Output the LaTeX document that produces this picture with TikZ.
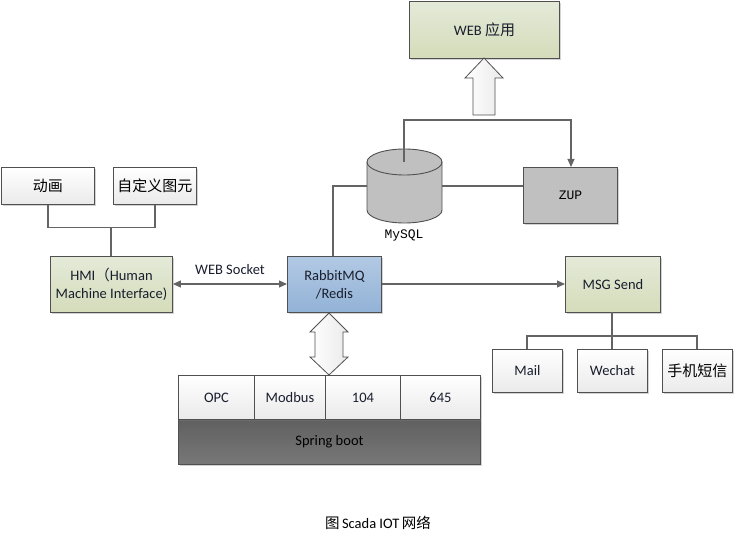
\documentclass[tikz,border=0pt]{standalone}
\usepackage{fontspec}
\setmainfont{Carlito}
\newfontfamily\cjk{Noto Sans CJK SC}
\newfontfamily\monof{Liberation Mono}
\usetikzlibrary{arrows.meta,shadows}
\definecolor{bordc}{RGB}{80,80,80}
\definecolor{linec}{RGB}{100,100,100}
\definecolor{txtc}{RGB}{25,30,45}
\definecolor{greentop}{RGB}{228,234,216}
\definecolor{greenbot}{RGB}{212,220,186}
\definecolor{bluetop}{RGB}{178,201,228}
\definecolor{bluebot}{RGB}{146,178,214}
\definecolor{whitebot}{RGB}{234,234,234}
\definecolor{darktop}{RGB}{96,96,96}
\definecolor{darkbot}{RGB}{120,120,120}
\definecolor{graybox}{RGB}{192,192,192}
\tikzset{
  base/.style={draw=bordc, line width=0.9pt, text=txtc, font=\fontsize{14.5}{17}\selectfont, align=center, inner sep=0pt, anchor=north west,
    drop shadow={shadow xshift=1.5pt, shadow yshift=-1.5pt, opacity=0.35, fill=gray}},
  greenbox/.style={base, top color=greentop, bottom color=greenbot},
  bluebox/.style={base, top color=bluetop, bottom color=bluebot},
  whitebox/.style={base, top color=white, bottom color=whitebot},
  darkbox/.style={base, top color=darktop, bottom color=darkbot, text=black},
  graybx/.style={base, fill=graybox},
  cjktext/.style={font=\cjk\fontsize{15}{18}\selectfont, text=black},
  conn/.style={draw=linec, line width=1.1pt},
  arr/.style={conn, -{Triangle[length=8pt,width=7pt]}},
  darr/.style={conn, {Triangle[length=8pt,width=7pt]}-{Triangle[length=8pt,width=7pt]}},
  blockarrow/.style={draw=bordc, line width=0.8pt, left color=white, right color=whitebot},
}
\begin{document}
\begin{tikzpicture}[x=1pt,y=-1pt]
\useasboundingbox (0,0) rectangle (735,540);
% boxes
\node[greenbox, minimum width=150pt, minimum height=57pt] (web) at (409,1) {WEB {\cjk\fontsize{15}{18}\selectfont 应用}};
\node[graybx, minimum width=94pt, minimum height=56pt, font=\monof\fontsize{13}{15}\selectfont, text=black] (zup) at (523,167) {ZUP};
\node[whitebox, minimum width=93pt, minimum height=37pt, cjktext] (anim) at (1,167) {动画};
\node[whitebox, minimum width=83pt, minimum height=37pt, cjktext] (cust) at (113,167) {自定义图元};
\node[greenbox, minimum width=122pt, minimum height=56pt] (hmi) at (50,256) {HMI{\cjk （}Human\\[1pt]Machine Interface)};
\node[bluebox, minimum width=94pt, minimum height=56pt] (rmq) at (287,256) {RabbitMQ\\[1pt]/Redis};
\node[greenbox, minimum width=95pt, minimum height=56pt] (msg) at (565,256) {MSG Send};
\node[whitebox, minimum width=70pt, minimum height=43pt] (mail) at (492,349) {Mail};
\node[whitebox, minimum width=70pt, minimum height=43pt] (wechat) at (577,349) {Wechat};
\node[whitebox, minimum width=70pt, minimum height=43pt, cjktext] (sms) at (662,349) {手机短信};
% protocol row and spring boot
\node[darkbox, minimum width=302pt, minimum height=45pt] (spring) at (178,419) {Spring boot};
\node[whitebox, minimum width=76pt, minimum height=44pt] (opc) at (178,375) {OPC};
\node[whitebox, minimum width=71pt, minimum height=44pt] (modbus) at (254,375) {Modbus};
\node[whitebox, minimum width=75pt, minimum height=44pt] (p104) at (325,375) {104};
\node[whitebox, minimum width=80pt, minimum height=44pt] (p645) at (400,375) {645};
% cylinder MySQL
\coordinate (dbtop) at (404,162);
\filldraw[draw=bordc, line width=0.9pt, fill=graybox] (367,162) -- (367,210) arc[start angle=180, end angle=360, x radius=37.5pt, y radius=13pt] -- (442,162) arc[start angle=0, end angle=180, x radius=37.5pt, y radius=13pt] -- cycle;
\draw[draw=bordc, line width=0.9pt] (367,162) arc[start angle=180, end angle=360, x radius=37.5pt, y radius=13pt];
\coordinate (dbleft) at (367,186);
\coordinate (dbright) at (442,186);
\node[font=\monof\fontsize{13}{15}\selectfont, text=black] (dblabel) at (404,235) {MySQL};
% connectors
\draw[conn] (anim.south) -- ++(0,23) -| (cust.south);
\coordinate (hmij) at (111,227);
\draw[conn] (hmij) -- (hmi.north -| hmij);
\draw[darr] (hmi.east |- 0,284) -- node[above=6pt, text=txtc, font=\fontsize{14.5}{17}\selectfont] {WEB Socket} (rmq.west |- 0,284);
\draw[arr] (rmq.east |- 0,284) -- (msg.west |- 0,284);
\draw[conn] (dbleft) -- (333,186) -- (333,256);
\draw[conn] (dbright) -- (zup.west |- dbright);
\draw[arr] (dbtop) -- (404,120) -- (571,120) -- (571,167);
\draw[conn] (612,312) -- (612,336);
\draw[conn] (mail.north -| 527,0) -- (527,336) -- (697,336) -- (sms.north -| 697,0);
\draw[conn] (612,336) -- (wechat.north -| 612,0);
% block arrows
\draw[blockarrow] (473,115) -- (473,78) -- (465,78) -- (484,58) -- (503,78) -- (495,78) -- (495,115) -- cycle;
\draw[blockarrow] (315,332) -- (310,332) -- (329,313) -- (348,332) -- (343,332) -- (343,357) -- (348,357) -- (329,375) -- (310,357) -- (315,357) -- cycle;
% caption
\node[font=\fontsize{14.5}{17}\selectfont, text=black] (cap) at (378,523) {{\cjk 图}\,Scada IOT\,{\cjk 网络}};
\end{tikzpicture}
\end{document}
